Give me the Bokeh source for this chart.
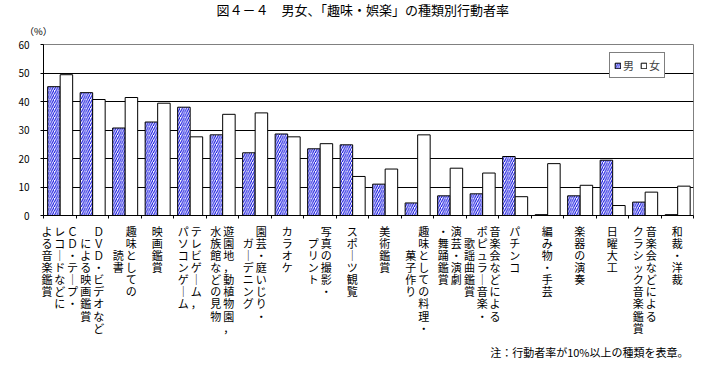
from bokeh.plotting import figure
from bokeh.models import (Range1d, FixedTicker, Title, Legend, LegendItem, LinearAxis)
from bokeh.embed import file_html
from bokeh.resources import INLINE

FNAME = "Noto Sans CJK JP"

title_text = "図４－４　男女、「趣味・娯楽」の種類別行動者率"
note_text = "注：行動者率が10%以上の種類を表章。"
unit_text = "（%）"

# category labels: columns of vertical text, right-to-left order
labels = [
    ["ＣＤ・テープ・", "レコードなどに", "よる音楽鑑賞"],
    ["ＤＶＤ・ビデオなど", "による映画鑑賞"],
    ["趣味としての", "読書"],
    ["映画鑑賞"],
    ["テレビゲーム，", "パソコンゲーム"],
    ["遊園地，動植物園，", "水族館などの見物"],
    ["園芸・庭いじり・", "ガーデニング"],
    ["カラオケ"],
    ["写真の撮影・", "プリント"],
    ["スポーツ観覧"],
    ["美術鑑賞"],
    ["趣味としての料理・", "菓子作り"],
    ["演芸・演劇", "・舞踊鑑賞"],
    ["音楽会などによる", "ポピュラー音楽・", "歌謡曲鑑賞"],
    ["パチンコ"],
    ["編み物・手芸"],
    ["楽器の演奏"],
    ["日曜大工"],
    ["音楽会などによる", "クラシック音楽鑑賞"],
    ["和裁・洋裁"],
]

male = [45.2, 43.1, 30.7, 32.8, 38.0, 28.3, 22.0, 28.6, 23.4, 24.8,
        11.0, 4.4, 6.9, 7.6, 20.7, 0.3, 6.9, 19.4, 4.7, 0.3]
female = [49.4, 40.7, 41.4, 39.4, 27.6, 35.5, 36.0, 27.6, 25.2, 13.7,
          16.3, 28.3, 16.6, 14.9, 6.6, 18.2, 10.6, 3.5, 8.2, 10.3]

y_ticks = [0, 10, 20, 30, 40, 50, 60]
grid_ticks = [10, 20, 30, 40, 50]

n = len(labels)
idx = list(range(n))


def vertical_label(cols):
    """Stack the characters of each column vertically; columns read right-to-left."""
    mx = max(len(c) for c in cols)
    grid = []
    for col in cols:
        start = (mx - len(col)) // 2
        cells = ["　"] * mx
        for r, ch in enumerate(col):
            cells[start + r] = "｜" if ch == "ー" else ch
        grid.append(cells)
    lines = []
    for r in range(mx):
        lines.append("\u2006".join(grid[j][r] for j in reversed(range(len(cols)))))
    return "\n".join(lines)


p = figure(width=708, height=366, x_range=Range1d(0, n), y_range=Range1d(0, 60),
           output_backend="svg", toolbar_location=None, x_axis_location=None,
           min_border_left=43, min_border_right=15, min_border_top=42,
           min_border_bottom=151)
p.outline_line_color = "#808080"
p.outline_line_width = 1
p.background_fill_color = "white"
p.border_fill_color = "white"

p.title.text = title_text
p.title.align = "left"
p.title.offset = 173
p.title.text_font = FNAME
p.title.text_font_size = "13px"
p.title.text_font_style = "normal"
p.title.text_color = "black"
p.title.standoff = -6

unit_title = Title(text=unit_text, align="left", offset=-19, text_font=FNAME,
                   text_font_size="9.5px", text_font_style="normal",
                   text_color="black", standoff=13)
p.add_layout(unit_title, "above")

p.xgrid.visible = False
p.ygrid.ticker = FixedTicker(ticks=grid_ticks)
p.ygrid.grid_line_color = "black"
p.ygrid.grid_line_width = 1

p.yaxis.ticker = FixedTicker(ticks=y_ticks)
p.yaxis.axis_line_color = "black"
p.yaxis.major_tick_line_color = "black"
p.yaxis.major_tick_out = 3
p.yaxis.major_tick_in = 0
p.yaxis.minor_tick_line_color = None
p.yaxis.major_label_text_font = FNAME
p.yaxis.major_label_text_font_size = "10px"
p.yaxis.major_label_text_color = "black"
p.yaxis.major_label_standoff = 11

centers = [i + 0.5 for i in idx]
bounds = list(range(n + 1))
xaxis = LinearAxis(ticker=FixedTicker(ticks=centers, minor_ticks=bounds),
                   major_label_overrides={c: vertical_label(lab) for c, lab in zip(centers, labels)},
                   axis_line_color="black", major_tick_line_color=None,
                   major_tick_out=3, major_tick_in=0,
                   minor_tick_line_color="black", minor_tick_out=3, minor_tick_in=0,
                   major_label_standoff=4, major_label_text_font=FNAME,
                   major_label_text_font_size="11px",
                   major_label_text_line_height=0.76,
                   major_label_text_color="black")
p.add_layout(xaxis, "below")

note_title = Title(text=note_text, align="right", offset=5, text_font=FNAME,
                   text_font_size="11px", text_font_style="normal",
                   text_color="black", standoff=6)
p.add_layout(note_title, "below")

xm = [i + 0.32 for i in idx]
xf = [i + 0.705 for i in idx]
rm = p.vbar(x=xm, top=male, width=0.385, bottom=0, fill_color="white",
            line_color="black", line_width=1, hatch_pattern="/",
            hatch_color="#0000dd", hatch_scale=4.5, hatch_weight=1)
rf = p.vbar(x=xf, top=female, width=0.385, bottom=0, fill_color="white",
            line_color="black", line_width=1)

legend = Legend(items=[LegendItem(label="男", renderers=[rm]),
                       LegendItem(label="女", renderers=[rf])],
                orientation="horizontal", location=(566, 137),
                glyph_width=7, glyph_height=7, label_standoff=2, spacing=6,
                padding=4, margin=0, label_text_font=FNAME,
                label_text_font_size="11px", label_height=10, label_width=10,
                border_line_color="black", border_line_width=1,
                background_fill_color="white", background_fill_alpha=1)
p.add_layout(legend, "center")

open("out.html", "w").write(file_html(p, INLINE))
